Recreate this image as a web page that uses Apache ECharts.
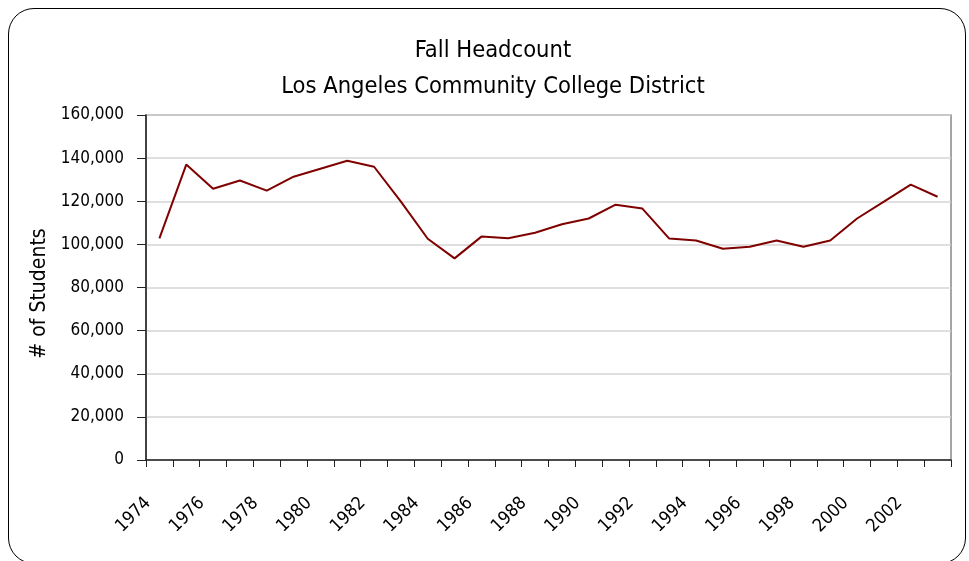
<!DOCTYPE html>
<html lang="en">
<head>
    <meta charset="UTF-8">
    <title>Fall Headcount</title>
    <script src="https://cdn.jsdelivr.net/npm/echarts@6/dist/echarts.min.js"></script>
    <style>
        html, body { margin: 0; padding: 0; background: #fff; }
        #frame {
            position: absolute; left: 8px; top: 8px; width: 958px; height: 556px;
            border: 1.5px solid #000; border-radius: 26px; box-sizing: border-box;
        }
        #chart { position: absolute; left: 0; top: 0; width: 969px; height: 561px; }
    </style>
</head>
<body>
    <div id="frame"></div>
    <div id="chart"></div>
    <script>
        // 年份与秋季人数
        const years = [
            '1974', '1975', '1976', '1977', '1978', '1979', '1980', '1981', '1982', '1983',
            '1984', '1985', '1986', '1987', '1988', '1989', '1990', '1991', '1992', '1993',
            '1994', '1995', '1996', '1997', '1998', '1999', '2000', '2001', '2002', '2003'
        ];
        const headcount = [
            102800, 137000, 125800, 129600, 124900, 131400, 135100, 138800, 136000, 119800,
            102600, 93500, 103600, 102800, 105400, 109300, 112000, 118400, 116600, 102700,
            101800, 98000, 98900, 101800, 98900, 101800, 112000, 119800, 127700, 122100
        ];

        const font = "'DejaVu Sans Condensed', 'Liberation Sans Narrow', sans-serif";

        const chart = echarts.init(document.getElementById('chart'), null, { renderer: 'canvas' });
        chart.setOption({
            backgroundColor: 'transparent',
            animation: false,
            title: {
                text: 'Fall Headcount\nLos Angeles Community College District',
                left: 488,
                textAlign: 'center',
                top: 28,
                textStyle: { fontFamily: font, fontSize: 23.5, fontWeight: 'normal', color: '#000', lineHeight: 36 }
            },
            grid: {
                left: 146, right: 18, top: 115, bottom: 101,
                show: true, borderColor: '#888', borderWidth: 1.5, backgroundColor: '#fff'
            },
            xAxis: {
                type: 'category',
                data: years,
                boundaryGap: true,
                axisLine: { lineStyle: { color: '#222', width: 1.5 } },
                axisTick: { show: true, length: 7, alignWithLabel: false, interval: 0, lineStyle: { color: '#222', width: 1 } },
                axisLabel: {
                    interval: 1, rotate: 45, margin: 29,
                    padding: [0, 16, 0, 0],
                    fontFamily: font, fontSize: 18, color: '#000'
                },
                splitLine: { show: false }
            },
            yAxis: {
                type: 'value',
                min: 0, max: 160000, interval: 20000,
                name: '# of Students',
                nameLocation: 'middle',
                nameGap: 92,
                nameTextStyle: { fontFamily: font, fontSize: 21, fontWeight: 'normal', color: '#000', padding: [0, 12, 0, 0] },
                axisLine: { show: true, lineStyle: { color: '#222', width: 1.5 } },
                axisTick: { show: true, length: 9, lineStyle: { color: '#222', width: 1 } },
                axisLabel: {
                    margin: 22,
                    fontFamily: font, fontSize: 17, color: '#000',
                    formatter: v => v.toLocaleString('en-US')
                },
                splitLine: { lineStyle: { color: '#d4d4d4', width: 1.5 } }
            },
            series: [{
                type: 'line',
                data: headcount,
                symbol: 'none',
                lineStyle: { color: '#800000', width: 2 }
            }]
        });
    </script>
</body>
</html>
